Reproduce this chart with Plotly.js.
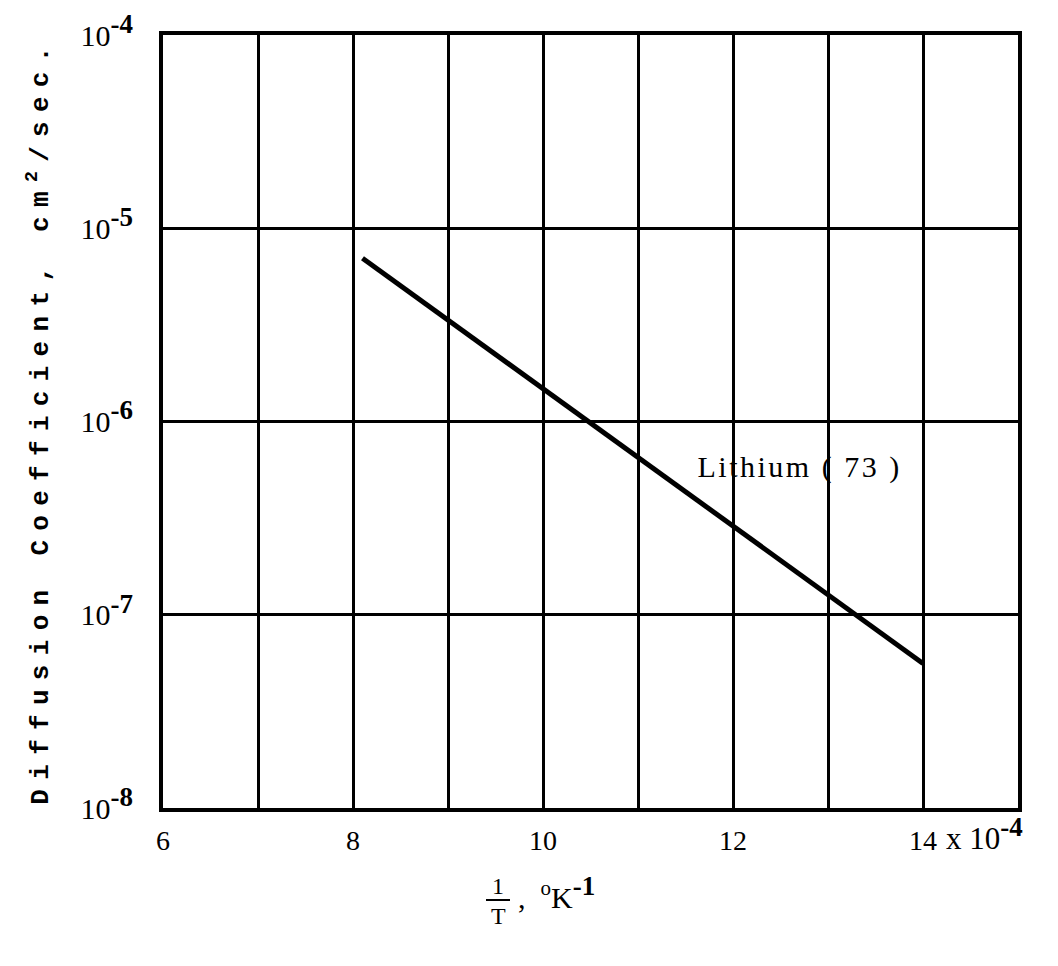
<!DOCTYPE html>
<html>
<head>
<meta charset="utf-8">
<script src="https://cdn.plot.ly/plotly-3.0.1.min.js"></script>
<style>
  html, body { margin: 0; padding: 0; background: #fff; }
  #chart { width: 1058px; height: 966px; }
</style>
</head>
<body>
<div id="chart"></div>
<script>
// Data
const seriesName = "Lithium ( 73 )";
const invT = [8.1, 14.0];              // 1/T, x 10^-4 K^-1
const diffCoef = [7.0e-6, 5.6e-8];     // cm^2/sec

const xTickVals = [6, 8, 10, 12, 14];
const xTickText = ["6", "8", "10", "12", "14"];
const yTickVals = [1e-8, 1e-7, 1e-6, 1e-5, 1e-4];
const yExponents = ["-8", "-7", "-6", "-5", "-4"];

const yTitle = "Diffusion Coefficient, cm<sup>2</sup>/sec.";
const labelPos = { x: 12.7, y: 5.8e-7 };

const serif = "Liberation Serif, DejaVu Serif, serif";
const mono = "Liberation Mono, DejaVu Sans Mono, monospace";

function px(xp) { return (xp - 163) / 855; }
function py(yp) { return (808 - yp) / 773; }
function bigSup(s, size) {
  return "<sup><span style=\"font-size:" + size + "px;font-weight:bold\">" + s + "</span></sup>";
}
const yTickText = yExponents.map(function (e) { return "10" + bigSup(e, 27); });

const trace = {
  x: invT, y: diffCoef, type: "scatter", mode: "lines",
  line: { color: "#000", width: 5 }, name: seriesName, showlegend: false,
  hoverinfo: "skip"
};

const xTickFont = { family: serif, size: 28, color: "#000" };
const yTickFont = { family: serif, size: 30, color: "#000" };

const layout = {
  width: 1058, height: 966,
  margin: { l: 163, r: 40, t: 35, b: 158 },
  paper_bgcolor: "#fff", plot_bgcolor: "#fff",
  showlegend: false,
  font: { family: serif, color: "#000", size: 22 },
  xaxis: {
    range: [6, 15], tickmode: "array", tickvals: xTickVals, ticktext: xTickText,
    showgrid: true, gridcolor: "#000", gridwidth: 3,
    minor: { dtick: 1, tick0: 0, showgrid: true, gridcolor: "#000", gridwidth: 3, ticks: "" },
    showline: true, linecolor: "#000", linewidth: 4, mirror: true,
    ticks: "", zeroline: false, ticklabelstandoff: 4,
    tickfont: xTickFont
  },
  yaxis: {
    type: "log", range: [-8, -4], tickmode: "array", tickvals: yTickVals, ticktext: yTickText,
    showgrid: true, gridcolor: "#000", gridwidth: 3,
    showline: true, linecolor: "#000", linewidth: 4, mirror: true,
    ticks: "", zeroline: false, ticklabelstandoff: 20,
    tickfont: yTickFont
  },
  annotations: [
    { x: labelPos.x, y: Math.log10(labelPos.y), xref: "x", yref: "y", text: seriesName,
      xanchor: "center", yanchor: "middle",
      showarrow: false, font: { family: serif, size: 30, color: "#000" } },
    { x: px(39), y: 0.5, xref: "paper", yref: "paper", text: yTitle,
      xanchor: "center", yanchor: "middle",
      textangle: -90, showarrow: false, font: { family: mono, size: 26, color: "#000" } },
    { x: px(944), y: py(834), xref: "paper", yref: "paper",
      text: "x 10" + bigSup("-4", 27), xanchor: "left", yanchor: "middle", showarrow: false,
      font: { family: serif, size: 31, color: "#000" } },
    { x: px(498), y: py(886), xref: "paper", yref: "paper",
      xanchor: "center", yanchor: "middle",
      text: "1", showarrow: false, font: { family: serif, size: 24, color: "#000" } },
    { x: px(498), y: py(916), xref: "paper", yref: "paper",
      xanchor: "center", yanchor: "middle",
      text: "T", showarrow: false, font: { family: serif, size: 24, color: "#000" } },
    { x: px(516), y: py(893), xref: "paper", yref: "paper",
      text: ",  <sup>o</sup>K" + bigSup("-1", 27), xanchor: "left", yanchor: "middle", showarrow: false,
      font: { family: serif, size: 30, color: "#000" } }
  ],
  shapes: [
    { type: "line", xref: "paper", yref: "paper",
      x0: px(486), x1: px(510), y0: py(900), y1: py(900),
      line: { color: "#000", width: 2 } }
  ]
};

Plotly.newPlot("chart", [trace], layout, { staticPlot: true, displayModeBar: false }).then(function (gd) {
  gd.querySelectorAll(".annotation-text").forEach(function (el) {
    if (el.textContent.indexOf("Diffusion") === 0) {
      el.style.letterSpacing = "9.3px";
      el.style.fontWeight = "bold";
    }
    if (el.textContent.indexOf("Lithium") === 0) {
      el.style.letterSpacing = "2.5px";
    }
  });
});
</script>
</body>
</html>
